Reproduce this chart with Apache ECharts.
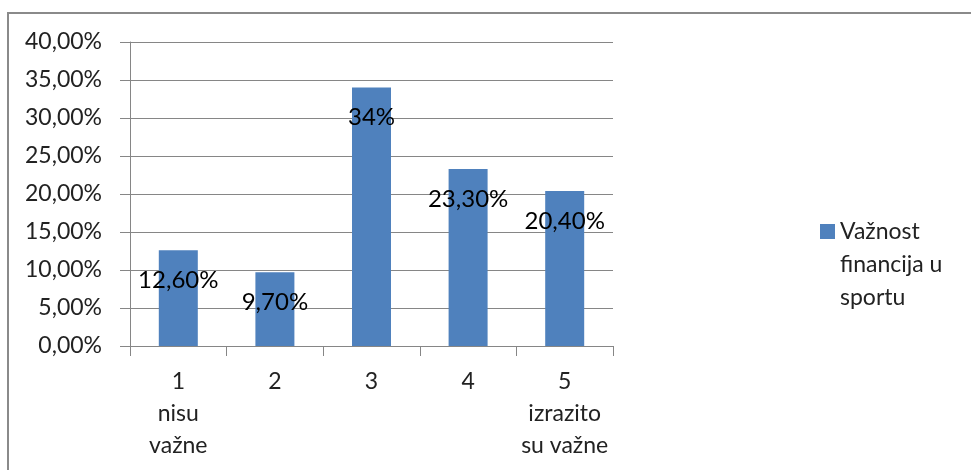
<!DOCTYPE html>
<html>
<head>
<meta charset="utf-8">
<script src="https://cdn.jsdelivr.net/npm/echarts@6/dist/echarts.min.js"></script>
<style>
html,body{margin:0;padding:0;background:#fff;}
#c{width:971px;height:470px;}
</style>
</head>
<body>
<div id="c"></div>
<script>
const categories = ['1\nnisu\nvažne', '2', '3', '4', '5\nizrazito\nsu važne'];
const seriesName = 'Važnost\nfinancija u\nsportu';
const values = [0.126, 0.097, 0.34, 0.233, 0.204];
const valueLabels = ['12,60%', '9,70%', '34%', '23,30%', '20,40%'];

const FONT = 'Lato';
const chart = echarts.init(document.getElementById('c'));
chart.setOption({
  backgroundColor: '#fff',
  animation: false,
  textStyle: { fontFamily: FONT },
  graphic: [{
    type: 'rect',
    shape: { x: 8, y: 13, width: 1000, height: 500 },
    style: { fill: 'none', stroke: '#8a8a8a', lineWidth: 2 },
    silent: true
  }],
  grid: { left: 130, right: 358, top: 42, bottom: 124, containLabel: false },
  legend: {
    left: 815, top: 144,
    orient: 'vertical',
    itemWidth: 15, itemHeight: 15,
    icon: 'rect',
    data: [seriesName],
    formatter: name => ' \n \n' + name,
    textStyle: { fontFamily: FONT, fontSize: 23, lineHeight: 33, color: '#222' }
  },
  xAxis: {
    type: 'category',
    data: categories,
    axisLine: { lineStyle: { color: '#868686', width: 1 } },
    axisTick: { show: true, length: 10, alignWithLabel: false, lineStyle: { color: '#868686' } },
    axisLabel: { fontFamily: FONT, fontSize: 23, lineHeight: 32, color: '#222', margin: 20, interval: 0 }
  },
  yAxis: {
    type: 'value',
    min: 0, max: 0.4, interval: 0.05,
    axisLine: { show: true, lineStyle: { color: '#868686', width: 1 } },
    axisTick: { show: true, length: 10, lineStyle: { color: '#868686' } },
    splitLine: { show: true, lineStyle: { color: '#868686', width: 1 } },
    axisLabel: {
      fontFamily: FONT, fontSize: 23, color: '#222', margin: 28,
      formatter: v => (v * 100).toFixed(2).replace('.', ',') + '%'
    }
  },
  series: [{
    name: seriesName,
    type: 'bar',
    data: values,
    barWidth: 39,
    itemStyle: { color: '#4F81BD' },
    label: {
      show: true,
      position: 'insideTop',
      distance: 18,
      fontFamily: FONT, fontSize: 24, color: '#000',
      formatter: p => valueLabels[p.dataIndex]
    }
  }]
});
</script>
</body>
</html>
